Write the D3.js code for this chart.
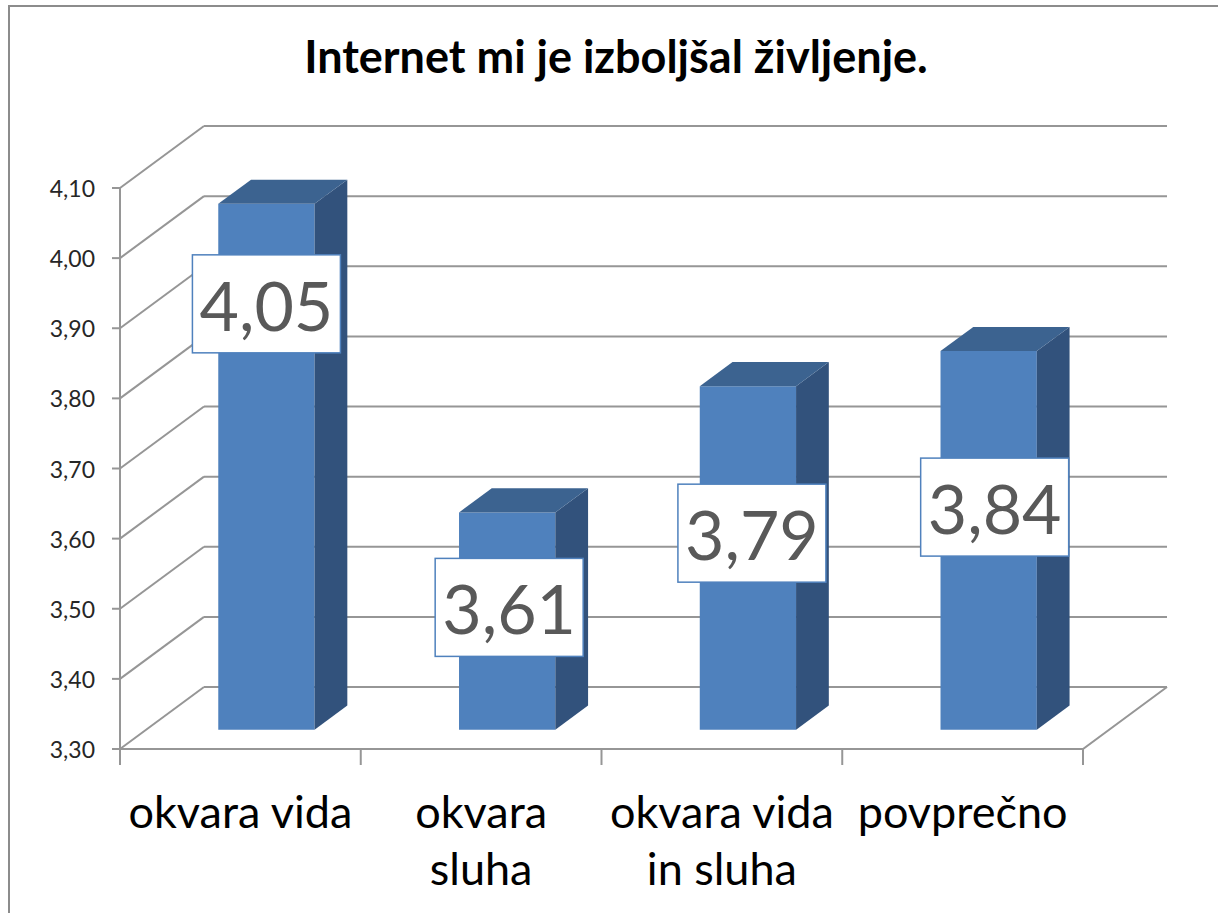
<!DOCTYPE html>
<html>
<head>
<meta charset="utf-8">
<script src="https://cdn.jsdelivr.net/npm/d3@7"></script>
<style>
  body { margin: 0; background: #fff; }
  svg { display: block; font-family: Lato, "Open Sans", sans-serif; }
</style>
</head>
<body>
<div id="chart"></div>
<script>
// data
var categories = [["okvara vida"], ["okvara", "sluha"], ["okvara vida", "in sluha"], ["povprečno"]];
var values = [4.05, 3.61, 3.79, 3.84];
var valueLabels = ["4,05", "3,61", "3,79", "3,84"];
var yTicks = [3.3, 3.4, 3.5, 3.6, 3.7, 3.8, 3.9, 4.0, 4.1];
var title = "Internet mi je izboljšal življenje.";

// how far below the bar top each value box sits (layout only)
var labelDrop = [100, 95, 147, 156];

const width = 1218, height = 913;
const DX = 84, DY = -62;          // depth of the 3d box
const front = 0.31, back = 0.70;  // bar depth inside the box
const grid = "#969696";

var svg = d3.select('#chart').append('svg')
  .attr('width', width)
  .attr('height', height);

// outer frame
svg.append('rect')
  .attr('x', 9).attr('y', 6)
  .attr('width', 1220).attr('height', 920)
  .attr('fill', 'none').attr('stroke', '#8c8c8c').attr('stroke-width', 2);

var keys = categories.map(function(d, i){ return i; });
var x = d3.scaleBand().domain(keys).range([120, 1083]);
var y = d3.scaleLinear().domain([3.3, 4.1]).range([749, 188]);

var p = function(px, py, depth){ return [px + DX*depth, py + DY*depth]; };

// walls
var walls = svg.append('g').attr('stroke', grid).attr('stroke-width', 2).attr('fill', 'none');
walls.selectAll('.back').data(yTicks).enter().append('line')
  .attr('x1', x.range()[0] + DX).attr('x2', x.range()[1] + DX)
  .attr('y1', function(d){ return y(d) + DY; })
  .attr('y2', function(d){ return y(d) + DY; });
walls.selectAll('.side').data(yTicks).enter().append('line')
  .attr('x1', x.range()[0]).attr('y1', function(d){ return y(d); })
  .attr('x2', x.range()[0] + DX).attr('y2', function(d){ return y(d) + DY; });
// floor
walls.append('path').attr('d', d3.line()([
  [x.range()[0], y(3.3)], [x.range()[1], y(3.3)], p(x.range()[1], y(3.3), 1)
]));
// vertical axis and ticks
walls.append('line')
  .attr('x1', 120).attr('x2', 120)
  .attr('y1', y(4.1)).attr('y2', y(3.3));
walls.selectAll('.yt').data(yTicks).enter().append('line')
  .attr('x1', 112).attr('x2', 120)
  .attr('y1', function(d){ return y(d); }).attr('y2', function(d){ return y(d); });
var catTicks = keys.map(function(k){ return x(k); }).concat([x.range()[1]]);
walls.selectAll('.xt').data(catTicks).enter().append('line')
  .attr('x1', function(d){ return d; }).attr('x2', function(d){ return d; })
  .attr('y1', y(3.3)).attr('y2', y(3.3) + 16);

// y tick labels
svg.append('g').selectAll('text').data(yTicks).enter().append('text')
  .attr('x', 95).attr('y', function(d){ return y(d) + 9; })
  .attr('text-anchor', 'end')
  .attr('font-size', 23).attr('fill', '#262626')
  .text(function(d){ return d3.format('.2f')(d).replace('.', ','); });

// bars
var bw = x.bandwidth() * 0.4;
var bars = svg.append('g').selectAll('g').data(values).enter().append('g');
bars.each(function(v, i){
  var g = d3.select(this);
  var x0 = x(i) + x.bandwidth()*0.3, x1 = x0 + bw;
  var yt = y(v), yb = y(3.3);
  // front face
  g.append('path').attr('fill', '#4F81BD').attr('d', d3.line()([
    p(x0, yt, front), p(x1, yt, front), p(x1, yb, front), p(x0, yb, front)
  ]) + 'Z');
  // side face
  g.append('path').attr('fill', '#32527C').attr('d', d3.line()([
    p(x1, yt, front), p(x1, yt, back), p(x1, yb, back), p(x1, yb, front)
  ]) + 'Z');
  // top face
  g.append('path').attr('fill', '#3C6390').attr('d', d3.line()([
    p(x0, yt, front), p(x0, yt, back), p(x1, yt, back), p(x1, yt, front)
  ]) + 'Z');
});

// value boxes
var labels = svg.append('g').selectAll('g').data(values).enter().append('g')
  .attr('transform', function(v, i){
    var c = p(x(i) + x.bandwidth()/2, y(v), front);
    return 'translate(' + (c[0] + i*2) + ',' + (c[1] + labelDrop[i]) + ')';
  });
labels.append('rect')
  .attr('x', -74).attr('y', -49).attr('width', 148).attr('height', 98)
  .attr('fill', '#fff').attr('stroke', '#4F81BD').attr('stroke-width', 1.5);
labels.append('text')
  .attr('text-anchor', 'middle').attr('y', 27)
  .attr('font-size', 68).attr('fill', '#595959')
  .text(function(v, i){ return valueLabels[i]; });

// category labels
var cats = svg.append('g').selectAll('text').data(categories).enter().append('text')
  .attr('text-anchor', 'middle')
  .attr('font-size', 45).attr('fill', '#000')
  .attr('transform', function(d, i){ return 'translate(' + (x(i) + x.bandwidth()/2) + ',828)'; });
cats.selectAll('tspan').data(function(d){ return d; }).enter().append('tspan')
  .attr('x', 0).attr('y', function(d, j){ return j*57; })
  .text(function(d){ return d; });

// title
svg.append('text')
  .attr('x', 616).attr('y', 73)
  .attr('text-anchor', 'middle')
  .attr('font-size', 45).attr('font-weight', 'bold')
  .text(title);
</script>
</body>
</html>
